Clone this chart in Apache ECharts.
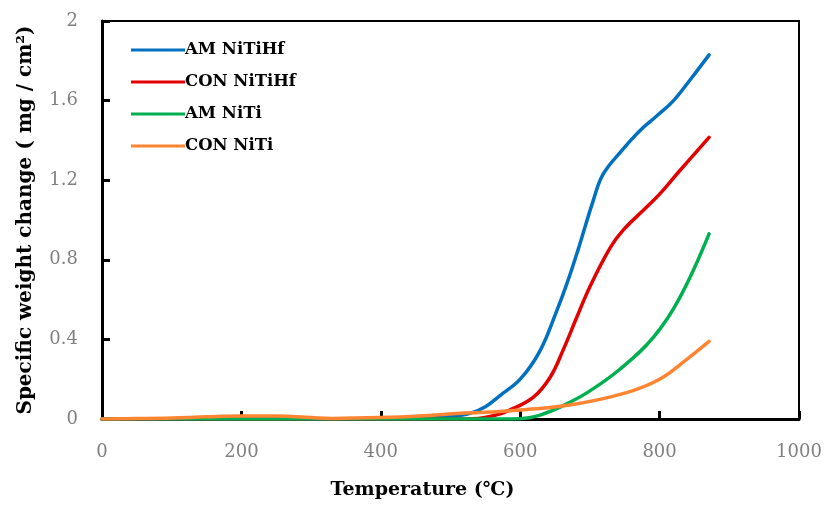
<!DOCTYPE html>
<html lang="en">
<head>
    <meta charset="UTF-8">
    <title>Specific weight change</title>
    <script src="https://cdn.jsdelivr.net/npm/echarts@6/dist/echarts.min.js"></script>
</head>
<body style="margin:0">
    <div id="chart" style="width:825px;height:512px"></div>
    <script>
        // temperatures (°C) and weight change (mg/cm2)
        var amHfT = [0, 100, 200, 300, 400, 460, 500, 528, 550, 571, 600, 628, 652, 667, 683, 705, 719, 746, 772, 795, 820, 845, 871]
        var amHfV = [0, 0, 0, 0, 0, 0.003, 0.012, 0.028, 0.062, 0.118, 0.2, 0.34, 0.54, 0.68, 0.85, 1.10, 1.23, 1.35, 1.45, 1.52, 1.6, 1.71, 1.83]

        var conHfT = [0, 100, 200, 300, 400, 500, 540, 560, 585, 619, 643, 662, 681, 700, 729, 748, 777, 800, 827, 871]
        var conHfV = [0, 0, 0, 0, 0, 0, 0.003, 0.015, 0.045, 0.11, 0.21, 0.35, 0.51, 0.665, 0.86, 0.95, 1.05, 1.13, 1.24, 1.415]

        var amTiT = [0, 100, 200, 300, 400, 500, 580, 610, 633, 657, 695, 743, 791, 829, 871]
        var amTiV = [0, 0, 0, 0, 0, 0, 0, 0.005, 0.025, 0.06, 0.13, 0.25, 0.41, 0.61, 0.93]

        var conTiT = [0, 50, 100, 150, 200, 250, 300, 330, 400, 456, 509, 560, 600, 671, 750, 800, 839, 871]
        var conTiV = [0, 0.002, 0.005, 0.011, 0.015, 0.015, 0.007, 0.003, 0.007, 0.015, 0.028, 0.035, 0.045, 0.07, 0.13, 0.2, 0.3, 0.39]

        var names = ['AM NiTiHf', 'CON NiTiHf', 'AM NiTi', 'CON NiTi']
        var colors = ['#0070C0', '#E30000', '#00B050', '#FF8533']

        function pairs(xs, ys) {
            return xs.map(function (x, i) { return [x, ys[i]] })
        }
        var allData = [pairs(amHfT, amHfV), pairs(conHfT, conHfV), pairs(amTiT, amTiV), pairs(conTiT, conTiV)]

        var myChart = echarts.init(document.getElementById('chart'))
        var font = 'DejaVu Serif'
        var option = {
            animation: false,
            color: colors,
            grid: {
                left: 102, top: 21, right: 26, bottom: 93,
                show: true, borderColor: '#000', borderWidth: 2
            },
            legend: {
                orient: 'vertical',
                left: 126, top: 35,
                itemWidth: 54, itemHeight: 3, itemGap: 12,
                icon: 'rect',
                data: names,
                textStyle: { fontFamily: font, fontWeight: 'bold', fontSize: 16.5, color: '#000', lineHeight: 20, padding: [0, 0, 0, -5] }
            },
            xAxis: {
                type: 'value',
                min: 0, max: 1000, interval: 200,
                name: 'Temperature (℃)',
                nameLocation: 'middle', nameGap: 62,
                nameTextStyle: { fontFamily: font, fontWeight: 'bold', fontSize: 19, color: '#000', padding: [0, 56, 0, 0] },
                axisLine: { lineStyle: { color: '#000', width: 3 } },
                axisTick: { show: true, inside: true, length: 8, lineStyle: { width: 3, color: '#000' } },
                axisLabel: {
                    fontFamily: font, fontSize: 18, color: '#808080', margin: 24,
                    formatter: function (v) { return String(v) }
                },
                splitLine: { show: false }
            },
            yAxis: {
                type: 'value',
                min: 0, max: 2, interval: 0.4,
                name: 'Specific weight change ( mg / cm²)',
                nameLocation: 'middle', nameGap: 66,
                nameTextStyle: { fontFamily: font, fontWeight: 'bold', fontSize: 20, color: '#000' },
                axisLine: { show: true, lineStyle: { color: '#000', width: 3 } },
                axisTick: { show: true, inside: true, length: 8, lineStyle: { width: 3, color: '#000' } },
                axisLabel: { fontFamily: font, fontSize: 18, color: '#808080', margin: 24 },
                splitLine: { show: false }
            },
            series: names.map(function (n, i) {
                return {
                    name: n,
                    type: 'line',
                    data: allData[i],
                    smooth: 0.4,
                    showSymbol: false,
                    lineStyle: { width: 3.5, color: colors[i], cap: 'round' }
                }
            })
        }
        myChart.setOption(option)
    </script>
</body>
</html>
